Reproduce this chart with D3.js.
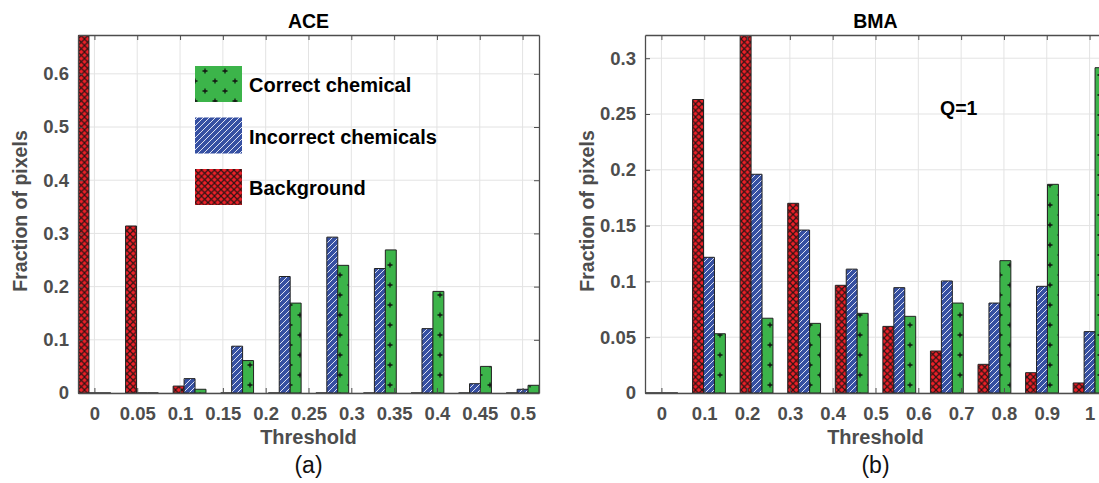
<!DOCTYPE html>
<html>
<head>
<meta charset="utf-8">
<script src="https://cdn.jsdelivr.net/npm/d3@7"></script>
<style>
  body { margin: 0; background: #fff; }
  svg { display: block; font-family: "Liberation Sans", Arial, sans-serif; }
</style>
</head>
<body>
<svg id="chart" width="1099" height="483"></svg>
<script>
// series order inside each group: Background, Incorrect chemicals, Correct chemical
const seriesNames = ["Background", "Incorrect chemicals", "Correct chemical"];

// ACE panel, 10 groups
const aceBackground = [0.673, 0.314, 0.013, 0, 0, 0, 0, 0, 0, 0];
const aceIncorrect  = [0, 0, 0.027, 0.088, 0.219, 0.293, 0.234, 0.121, 0.0175, 0.007];
const aceCorrect    = [0, 0, 0.007, 0.061, 0.169, 0.240, 0.269, 0.191, 0.050, 0.0145];
const aceXTicks = ["0", "0.05", "0.1", "0.15", "0.2", "0.25", "0.3", "0.35", "0.4", "0.45", "0.5"];
const aceYTicks = [0, 0.1, 0.2, 0.3, 0.4, 0.5, 0.6];

// BMA panel, 10 groups
const bmaBackground = [0, 0.263, 0.33, 0.170, 0.0965, 0.0597, 0.0376, 0.0257, 0.0182, 0.009];
const bmaIncorrect  = [0, 0.1216, 0.196, 0.146, 0.111, 0.0944, 0.1004, 0.0806, 0.0956, 0.055];
const bmaCorrect    = [0, 0.0531, 0.067, 0.0624, 0.0714, 0.0687, 0.0806, 0.1186, 0.187, 0.2915];
const bmaXTicks = ["0", "0.1", "0.2", "0.3", "0.4", "0.5", "0.6", "0.7", "0.8", "0.9", "1"];
const bmaYTicks = [0, 0.05, 0.1, 0.15, 0.2, 0.25, 0.3];

const svg = d3.select("#chart");
const defs = svg.append("defs");

// hatch patterns
const pRed = defs.append("pattern").attr("id", "hatchRed")
  .attr("patternUnits", "userSpaceOnUse").attr("width", 6.5).attr("height", 6.5);
pRed.append("rect").attr("width", 6.5).attr("height", 6.5).attr("fill", "#ee2028");
pRed.append("path").attr("d", "M0,0 L6.5,6.5 M6.5,0 L0,6.5")
  .attr("stroke", "#2e1414").attr("stroke-width", 1.2);

const pBlue = defs.append("pattern").attr("id", "hatchBlue")
  .attr("patternUnits", "userSpaceOnUse").attr("width", 6).attr("height", 6);
pBlue.append("rect").attr("width", 6).attr("height", 6).attr("fill", "#3650a2");
pBlue.append("path").attr("d", "M0,6 L6,0 M-1,1 L1,-1 M5,7 L7,5")
  .attr("stroke", "#f0f3fa").attr("stroke-width", 0.9);

const pGreen = defs.append("pattern").attr("id", "hatchGreen")
  .attr("patternUnits", "userSpaceOnUse").attr("width", 20).attr("height", 20);
pGreen.append("rect").attr("width", 20).attr("height", 20).attr("fill", "#3cb44a");
pGreen.append("path")
  .attr("d", "M7.5,5 H12.5 M10,2.5 V7.5 M-2.5,15 H2.5 M0,12.5 V17.5 M17.5,15 H22.5 M20,12.5 V17.5")
  .attr("stroke", "#111").attr("stroke-width", 1.3);

const fills = ["url(#hatchRed)", "url(#hatchBlue)", "url(#hatchGreen)"];
const bw = 0.23;          // bar width in group-index units
const nGroups = 10;
const axisW = 461, plotTop = 35, plotBottom = 393;
const axisColor = "#4d4d4d";

function drawPanel(cfg) {
  const x = d3.scaleLinear()
    .domain([-1.5 * bw, nGroups - 1 + 1.5 * bw])
    .range([cfg.left, cfg.left + axisW]);
  const y = d3.scaleLinear().domain([0, cfg.yMax]).range([plotBottom, plotTop]);
  const right = cfg.left + axisW;
  const tickPos = cfg.xTicks.map((t, i) => i * (nGroups - 1) / (cfg.xTicks.length - 1));

  const g = svg.append("g");
  const clipId = "clip" + cfg.id;
  defs.append("clipPath").attr("id", clipId).append("rect")
    .attr("x", cfg.left).attr("y", plotTop).attr("width", axisW).attr("height", plotBottom - plotTop);

  // grid
  g.append("g").selectAll("line").data(tickPos).join("line")
    .attr("x1", d => x(d)).attr("x2", d => x(d)).attr("y1", plotTop).attr("y2", plotBottom)
    .attr("stroke", "#e3e3e3").attr("stroke-width", 1);
  g.append("g").selectAll("line").data(cfg.yTicks).join("line")
    .attr("x1", cfg.left).attr("x2", right).attr("y1", d => y(d)).attr("y2", d => y(d))
    .attr("stroke", "#e3e3e3").attr("stroke-width", 1);

  // bars
  const bars = [];
  cfg.series.forEach((vals, s) => {
    vals.forEach((v, i) => bars.push({ s, i, v }));
  });
  g.append("g").attr("clip-path", `url(#${clipId})`)
    .selectAll("path").data(bars).join("path")
    .attr("d", d => {
      const x0 = x(d.i + (d.s - 1.5) * bw), x1 = x(d.i + (d.s - 0.5) * bw);
      const y0 = y(0), y1 = y(d.v);
      return `M${x0},${y0} H${x1} V${y1} H${x0} Z`;
    })
    .attr("fill", d => fills[d.s])
    .attr("stroke", "#222").attr("stroke-width", 1);

  // axes box + inward ticks
  const xAxisB = d3.axisBottom(x).tickValues(tickPos).tickSizeInner(-5).tickSizeOuter(0)
    .tickFormat((d, i) => cfg.xTicks[i]).tickPadding(14);
  const xAxisT = d3.axisTop(x).tickValues(tickPos).tickSizeInner(-5).tickSizeOuter(0).tickFormat("");
  const yAxisL = d3.axisLeft(y).tickValues(cfg.yTicks).tickSizeInner(-5).tickSizeOuter(0).tickPadding(9)
    .tickFormat(d => d3.format("~g")(d));
  const yAxisR = d3.axisRight(y).tickValues(cfg.yTicks).tickSizeInner(-5).tickSizeOuter(0).tickFormat("");

  const styleAxis = sel => {
    sel.selectAll("path.domain").attr("stroke", axisColor).attr("stroke-width", 1.3);
    sel.selectAll(".tick line").attr("stroke", axisColor);
    sel.selectAll(".tick text").attr("fill", axisColor).attr("font-size", 18.5)
      .attr("font-weight", "bold").attr("font-family", "Liberation Sans, Arial, sans-serif");
  };
  g.append("g").attr("transform", `translate(0,${plotBottom})`).call(xAxisB).call(styleAxis);
  g.append("g").attr("transform", `translate(0,${plotTop})`).call(xAxisT).call(styleAxis);
  g.append("g").attr("transform", `translate(${cfg.left},0)`).call(yAxisL).call(styleAxis);
  g.append("g").attr("transform", `translate(${right},0)`).call(yAxisR).call(styleAxis);

  const cx = cfg.left + axisW / 2;
  g.append("text").attr("x", cx).attr("y", 28).attr("text-anchor", "middle")
    .attr("font-size", 19.5).attr("font-weight", "bold").attr("fill", "#000").text(cfg.title);
  g.append("text").attr("x", cx).attr("y", 444).attr("text-anchor", "middle")
    .attr("font-size", 20).attr("font-weight", "bold").attr("fill", axisColor).text("Threshold");
  g.append("text").attr("transform", `translate(${cfg.left - 51},${(plotTop + plotBottom) / 2 - 3}) rotate(-90)`)
    .attr("text-anchor", "middle").attr("font-size", 19.5).attr("font-weight", "bold")
    .attr("fill", axisColor).text("Fraction of pixels");
  g.append("text").attr("x", cx).attr("y", 473).attr("text-anchor", "middle")
    .attr("font-size", 23).attr("fill", "#111").text(cfg.caption);
  return g;
}

drawPanel({
  id: "a", left: 78, yMax: 0.673, title: "ACE", caption: "(a)",
  series: [aceBackground, aceIncorrect, aceCorrect],
  xTicks: aceXTicks, yTicks: aceYTicks
});
const gb = drawPanel({
  id: "b", left: 645, yMax: 0.3208, title: "BMA", caption: "(b)",
  series: [bmaBackground, bmaIncorrect, bmaCorrect],
  xTicks: bmaXTicks, yTicks: bmaYTicks
});
gb.append("text").attr("x", 940).attr("y", 115).attr("font-size", 19.5)
  .attr("font-weight", "bold").attr("fill", "#000").text("Q=1");

// legend (ACE panel), top to bottom: Correct, Incorrect, Background
const legendOrder = [2, 1, 0];
const lg = svg.append("g").attr("transform", "translate(195,66)");
legendOrder.forEach((s, k) => {
  lg.append("rect").attr("x", 0).attr("y", k * 51.5).attr("width", 47).attr("height", 36)
    .attr("fill", fills[s]);
  lg.append("text").attr("x", 54).attr("y", k * 51.5 + 26).attr("font-size", 20)
    .attr("font-weight", "bold").attr("fill", "#000").text(seriesNames[s]);
});
</script>
</body>
</html>
